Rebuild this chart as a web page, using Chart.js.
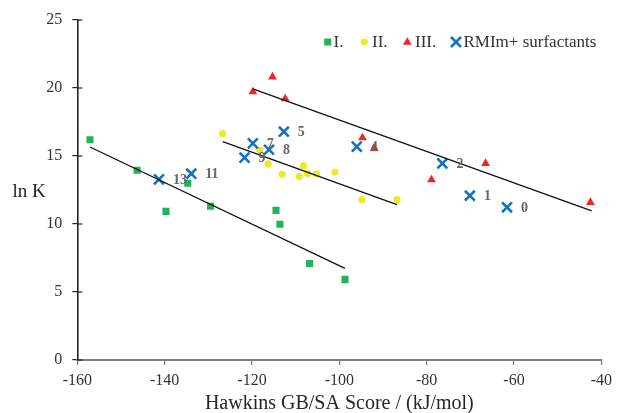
<!DOCTYPE html>
<html>
<head>
<meta charset="utf-8">
<script src="https://cdn.jsdelivr.net/npm/chart.js@4.4.0/dist/chart.umd.min.js"></script>
<style>
html,body{margin:0;padding:0;background:#fff;}
#wrap{width:618px;height:413px;position:relative;}
</style>
</head>
<body>
<div id="wrap"><canvas id="c" width="618" height="413"></canvas></div>
<script>
// ---- Data ----
const xTicks = [-160, -140, -120, -100, -80, -60, -40];
const yTicks = [0, 5, 10, 15, 20, 25];

const groupI_x = [-157.1, -146.3, -134.7, -139.7, -129.5, -114.5, -113.6, -106.8, -98.7];
const groupI_y = [16.2, 13.95, 13.0, 10.93, 11.3, 11.0, 9.98, 7.1, 5.93];

const groupII_x = [-126.7, -118.2, -116.3, -113.1, -109.2, -108.2, -107.3, -105.2, -101.0, -94.8, -86.8];
const groupII_y = [16.64, 15.42, 14.43, 13.65, 13.48, 14.29, 13.72, 13.68, 13.82, 11.79, 11.79];

const groupIII_x = [-119.8, -115.3, -112.4, -94.7, -92.0, -78.9, -66.5, -42.5];
const groupIII_y = [19.72, 20.82, 19.21, 16.34, 15.56, 13.25, 14.46, 11.59];

const rmim_x = [-61.6, -70.1, -76.4, -96.0, -112.7, -119.8, -116.1, -121.7, -133.9, -141.3];
const rmim_y = [11.23, 12.08, 14.45, 15.69, 16.79, 15.93, 15.46, 14.88, 13.7, 13.28];
const rmim_labels = ['0', '1', '2', '4', '5', '7', '8', '9', '11', '13'];

const trendI_x = [-157.1, -98.7],  trendI_y = [15.66, 6.74];
const trendII_x = [-126.7, -86.8], trendII_y = [16.05, 11.43];
const trendIII_x = [-119.8, -42.2], trendIII_y = [19.93, 10.96];

const legendNames = ['I.', 'II.', 'III.', 'RMIm+ surfactants'];
const xTitle = 'Hawkins GB/SA Score / (kJ/mol)';
const yTitle = 'ln K';

// ---- Styles ----
const cGreen = '#22B25A', cYellow = '#EEE82A', cRed = '#F02626', cBlue = '#1572C2';
const serif = '"Liberation Serif", "Times New Roman", serif';

function pts(xs, ys) { return xs.map((x, i) => ({x: x, y: ys[i]})); }

const scatterBase = {showLine: false, pointHoverRadius: 0};
const datasets = [
  {label: legendNames[3], data: pts(rmim_x, rmim_y), pointStyle: 'crossRot', pointRadius: 7,
   borderColor: cBlue, backgroundColor: cBlue, pointBorderWidth: 2.6, order: 1, ...scatterBase},
  {label: legendNames[2], data: pts(groupIII_x, groupIII_y), pointStyle: 'triangle', pointRadius: 5.1,
   borderColor: cRed, backgroundColor: cRed, pointBorderWidth: 0, order: 2, ...scatterBase},
  {label: legendNames[1], data: pts(groupII_x, groupII_y), pointStyle: 'circle', pointRadius: 3.6,
   borderColor: cYellow, backgroundColor: cYellow, pointBorderWidth: 0, order: 3, ...scatterBase},
  {label: legendNames[0], data: pts(groupI_x, groupI_y), pointStyle: 'rect', pointRadius: 5,
   borderColor: cGreen, backgroundColor: cGreen, pointBorderWidth: 0, order: 4, ...scatterBase},
  {label: 'tI', data: pts(trendI_x, trendI_y), showLine: true, pointRadius: 0, borderColor: '#111', borderWidth: 1.3, order: 0},
  {label: 'tII', data: pts(trendII_x, trendII_y), showLine: true, pointRadius: 0, borderColor: '#111', borderWidth: 1.3, order: 0},
  {label: 'tIII', data: pts(trendIII_x, trendIII_y), showLine: true, pointRadius: 0, borderColor: '#111', borderWidth: 1.3, order: 0}
];

const decoPlugin = {
  id: 'deco',
  afterDraw(chart) {
    const ctx = chart.ctx;
    const xs = chart.scales.x, ys = chart.scales.y;
    const ca = chart.chartArea;
    ctx.save();
    // inner part of y tick marks (ticks cross the axis)
    ctx.strokeStyle = '#222';
    ctx.lineWidth = 1.2;
    yTicks.forEach(v => {
      const py = ys.getPixelForValue(v);
      ctx.beginPath(); ctx.moveTo(ca.left, py); ctx.lineTo(ca.left + 5, py); ctx.stroke();
    });
    // point labels for RMIm+ surfactants
    ctx.fillStyle = '#676767';
    ctx.font = 'bold 14px ' + serif;
    ctx.textAlign = 'left';
    ctx.textBaseline = 'middle';
    rmim_x.forEach((x, i) => {
      ctx.fillText(rmim_labels[i], xs.getPixelForValue(x) + 14, ys.getPixelForValue(rmim_y[i]) + 1);
    });
    // axis titles
    ctx.fillStyle = '#262626';
    ctx.font = '19px ' + serif;
    ctx.textAlign = 'center';
    ctx.fillText(yTitle, 29, 192);
    ctx.font = '20px ' + serif;
    ctx.fillText(xTitle, (ca.left + ca.right) / 2, 404);
    // legend
    const ly = 42;
    ctx.font = '17px ' + serif;
    ctx.textAlign = 'left';
    // I.
    ctx.fillStyle = cGreen; ctx.fillRect(324.2, ly - 3.5, 7, 7);
    ctx.fillStyle = '#333'; ctx.fillText(legendNames[0], 333.5, ly + 1);
    // II.
    ctx.fillStyle = cYellow; ctx.beginPath(); ctx.arc(364.3, ly, 3.6, 0, Math.PI * 2); ctx.fill();
    ctx.fillStyle = '#333'; ctx.fillText(legendNames[1], 372, ly + 1);
    // III.
    ctx.fillStyle = cRed; ctx.beginPath();
    ctx.moveTo(407.3, ly - 4.8); ctx.lineTo(411.7, ly + 2.8); ctx.lineTo(402.9, ly + 2.8); ctx.closePath(); ctx.fill();
    ctx.fillStyle = '#333'; ctx.fillText(legendNames[2], 415, ly + 1);
    // RMIm
    ctx.strokeStyle = cBlue; ctx.lineWidth = 2.6; ctx.beginPath();
    ctx.moveTo(451, ly - 5); ctx.lineTo(461, ly + 5); ctx.moveTo(461, ly - 5); ctx.lineTo(451, ly + 5); ctx.stroke();
    ctx.fillStyle = '#333'; ctx.fillText(legendNames[3], 463.5, ly + 1);
    ctx.restore();
  }
};

new Chart(document.getElementById('c'), {
  type: 'scatter',
  data: {datasets: datasets},
  options: {
    responsive: false,
    animation: false,
    events: [],
    layout: {padding: {left: 0, right: 13, top: 20, bottom: 0}},
    plugins: {legend: {display: false}, tooltip: {enabled: false}, title: {display: false}},
    scales: {
      x: {
        type: 'linear', min: -160, max: -40,
        afterBuildTicks(s) { s.ticks = xTicks.map(v => ({value: v})); },
        afterFit(s) { s.height = 53; },
        grid: {drawOnChartArea: false, drawTicks: true, tickLength: 5, color: '#7a7a7a', lineWidth: 1.2},
        border: {display: true, color: '#7f7f7f', width: 2},
        ticks: {padding: 6, color: '#333', font: {family: serif, size: 16}, maxRotation: 0,
                callback: v => String(v)},
        title: {display: false}
      },
      y: {
        type: 'linear', min: 0, max: 25,
        afterBuildTicks(s) { s.ticks = yTicks.map(v => ({value: v})); },
        afterFit(s) { s.width = 77.3; },
        grid: {drawOnChartArea: false, drawTicks: true, tickLength: 5, color: '#222', lineWidth: 1.2},
        border: {display: true, color: '#222', width: 1.6},
        ticks: {padding: 10, color: '#333', font: {family: serif, size: 16}, callback: v => String(v)}
      }
    }
  },
  plugins: [decoPlugin]
});
</script>
</body>
</html>
